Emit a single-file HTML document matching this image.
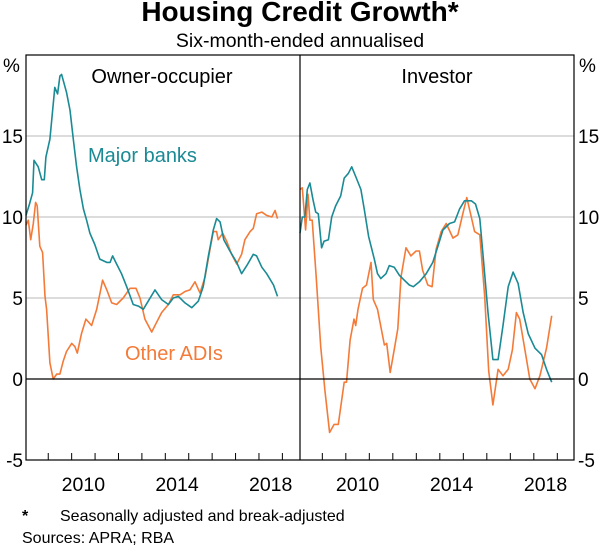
<!DOCTYPE html>
<html><head><meta charset="utf-8"><style>
html,body{margin:0;padding:0;background:#fff;}
svg{display:block;font-family:"Liberation Sans",Arial,sans-serif;}
</style></head><body>
<svg id="chart" width="600" height="546" viewBox="0 0 600 546">
<text x="300" y="21" text-anchor="middle" font-size="28" font-weight="bold">Housing Credit Growth*</text>
<text x="300" y="47" text-anchor="middle" font-size="19.5">Six-month-ended annualised</text>
<g id="grid"></g>
<g id="series"></g>
<g id="axes"></g>
<text x="3" y="72" font-size="19">%</text>
<text x="579" y="72" font-size="19">%</text>
<text x="162" y="83" text-anchor="middle" font-size="20">Owner-occupier</text>
<text x="437" y="83" text-anchor="middle" font-size="20">Investor</text>
<text x="88" y="162" font-size="20" fill="#1a8a95">Major banks</text>
<text x="125" y="360" font-size="20" fill="#f47a38">Other ADIs</text>
<text x="22" y="521" font-size="16" font-weight="bold">*</text>
<text x="60" y="521" font-size="16">Seasonally adjusted and break-adjusted</text>
<text x="22" y="543" font-size="16">Sources: APRA; RBA</text>
</svg>
<script>
const yTicks=[-5,0,5,10,15];
const yearTicks=[2009,2010,2011,2012,2013,2014,2015,2016,2017,2018,2019];
const yearLabels=[2010,2014,2018];
const ooMajorX=[2008.05,2008.2,2008.33,2008.39,2008.57,2008.72,2008.83,2008.9,2009.07,2009.17,2009.28,2009.4,2009.5,2009.57,2009.78,2009.93,2010.07,2010.21,2010.35,2010.5,2010.64,2010.78,2010.99,2011.2,2011.5,2011.64,2011.75,2011.92,2012.13,2012.35,2012.63,2012.85,2013.06,2013.27,2013.56,2013.84,2014.13,2014.34,2014.56,2014.84,2015.13,2015.41,2015.62,2015.84,2016.05,2016.19,2016.34,2016.5,2016.76,2017.05,2017.26,2017.48,2017.76,2017.9,2018.12,2018.33,2018.62,2018.79];
const ooMajorY=[10.1,10.8,11.5,13.5,13.1,12.3,12.3,13.7,14.8,16.3,18.0,17.6,18.7,18.8,17.7,16.6,14.8,13.1,11.7,10.5,9.8,9.0,8.3,7.4,7.2,7.2,7.6,7.1,6.5,5.7,4.6,4.5,4.3,4.8,5.5,4.9,4.6,5.0,5.1,4.7,4.4,4.8,5.7,7.6,9.2,9.9,9.7,8.6,7.9,7.2,6.5,7.0,7.7,7.6,6.9,6.5,5.8,5.1];
const ooOtherX=[2008.05,2008.15,2008.25,2008.36,2008.46,2008.53,2008.64,2008.76,2008.86,2008.93,2009.07,2009.21,2009.36,2009.5,2009.64,2009.78,2010.0,2010.14,2010.24,2010.42,2010.61,2010.85,2011.07,2011.21,2011.32,2011.5,2011.71,2011.92,2012.2,2012.49,2012.75,2012.92,2013.13,2013.42,2013.63,2013.84,2014.13,2014.34,2014.63,2014.84,2015.05,2015.27,2015.48,2015.7,2015.91,2016.05,2016.19,2016.26,2016.45,2016.62,2016.83,2017.05,2017.26,2017.4,2017.62,2017.76,2017.9,2018.12,2018.33,2018.55,2018.69,2018.79];
const ooOtherY=[9.5,9.8,8.6,9.6,10.9,10.7,8.2,7.8,5.1,4.3,1.0,0.0,0.3,0.3,1.1,1.7,2.2,2.0,1.6,2.8,3.7,3.3,4.3,5.3,6.1,5.5,4.7,4.6,5.0,5.6,5.6,5.0,3.7,2.9,3.5,4.1,4.6,5.2,5.2,5.4,5.5,6.0,5.3,6.3,8.0,9.1,9.1,8.6,9.0,8.5,7.7,7.1,7.7,8.6,9.1,9.3,10.2,10.3,10.1,10.0,10.4,9.9];
const invMajorX=[2008.05,2008.15,2008.26,2008.36,2008.47,2008.6,2008.72,2008.83,2008.97,2009.07,2009.26,2009.4,2009.57,2009.78,2009.93,2010.11,2010.25,2010.42,2010.64,2010.78,2010.97,2011.21,2011.35,2011.49,2011.71,2011.85,2012.06,2012.28,2012.49,2012.7,2012.87,2013.13,2013.42,2013.7,2013.92,2014.13,2014.41,2014.63,2014.84,2015.05,2015.34,2015.52,2015.7,2015.84,2016.05,2016.26,2016.48,2016.69,2016.91,2017.12,2017.33,2017.55,2017.76,2018.05,2018.33,2018.54,2018.76];
const invMajorY=[9.0,10.0,10.0,11.7,12.1,11.1,10.3,10.2,8.1,8.5,8.6,10.0,10.7,11.3,12.4,12.7,13.1,12.5,11.7,10.5,8.8,7.4,6.5,6.2,6.5,7.0,6.9,6.4,6.1,5.8,5.7,6.0,6.5,7.2,8.2,9.2,9.6,9.7,10.5,11.0,11.0,10.8,9.9,7.6,4.1,1.2,1.2,3.3,5.7,6.6,5.9,4.1,2.8,1.9,1.5,0.6,-0.2];
const invOtherX=[2008.05,2008.15,2008.29,2008.39,2008.47,2008.57,2008.74,2008.93,2009.11,2009.31,2009.5,2009.68,2009.93,2010.03,2010.18,2010.35,2010.42,2010.52,2010.71,2010.88,2011.07,2011.17,2011.35,2011.64,2011.74,2011.89,2012.06,2012.21,2012.35,2012.56,2012.77,2012.99,2013.13,2013.27,2013.49,2013.67,2013.84,2014.06,2014.27,2014.56,2014.77,2014.98,2015.15,2015.34,2015.48,2015.7,2015.91,2016.08,2016.26,2016.48,2016.69,2016.91,2017.09,2017.26,2017.4,2017.62,2017.83,2018.05,2018.26,2018.54,2018.76];
const invOtherY=[11.7,11.8,9.2,11.4,9.8,9.8,6.3,2.0,-0.7,-3.3,-2.8,-2.8,-0.2,-0.2,2.4,3.7,3.3,4.3,5.6,5.8,7.2,4.9,4.3,2.1,2.2,0.4,1.8,3.1,6.3,8.1,7.6,7.9,7.9,6.7,5.8,5.7,8.0,9.1,9.6,8.7,8.9,10.2,11.2,10.0,9.1,8.9,5.1,0.5,-1.6,0.6,0.2,0.6,1.8,4.1,3.7,1.8,0.0,-0.6,0.2,1.9,3.9];

const NS='http://www.w3.org/2000/svg';
const T0=2008.05,T1=2019.71,TOP=55,BOT=460,YMIN=-5,YMAX=20;
const panels=[{l:26,r:299},{l:300,r:574}];
function xs(p,t){return p.l+(t-T0)/(T1-T0)*(p.r-p.l);}
function ys(v){return BOT-(v-YMIN)/(YMAX-YMIN)*(BOT-TOP);}
function mk(tag,attrs,parent){const e=document.createElementNS(NS,tag);for(const k in attrs)e.setAttribute(k,attrs[k]);parent.appendChild(e);return e;}
const grid=document.getElementById('grid'),ser=document.getElementById('series'),axes=document.getElementById('axes');
yTicks.forEach(v=>{
  if(v>YMIN&&v!==0){const g=mk('line',{x1:26,x2:574,y1:ys(v),y2:ys(v),stroke:'#b8b8b8','stroke-width':1},grid);
  
  }
  const a=mk('text',{x:23,y:ys(v)+7,'text-anchor':'end','font-size':19},axes);a.textContent=v;
  
  
  const b=mk('text',{x:578,y:ys(v)+7,'font-size':19},axes);b.textContent=v;
  
  
});
const z=mk('line',{x1:26,x2:574,y1:ys(0),y2:ys(0),stroke:'#000','stroke-width':1.2},axes);


panels.forEach((p,i)=>{
  yearTicks.forEach(y=>{const t=mk('line',{x1:xs(p,y),x2:xs(p,y),y1:BOT,y2:BOT-7,stroke:'#000','stroke-width':1},axes);
  
  });
  yearLabels.forEach(y=>{const t=mk('text',{x:xs(p,y+0.5),y:491,'text-anchor':'middle','font-size':19.5},axes);t.textContent=y;
  
  });
});
function line(p,X,Y,c,name){
  const d=X.map((t,i)=>(i?'L':'M')+xs(p,t).toFixed(1)+','+ys(Y[i]).toFixed(1)).join('');
  const e=mk('path',{d:d,fill:'none',stroke:c,'stroke-width':1.6,'stroke-linejoin':'round'},ser);
  
  
}
line(panels[0],ooOtherX,ooOtherY,'#f47a38','line-owner-other-adis');
line(panels[0],ooMajorX,ooMajorY,'#1a8a95','line-owner-major-banks');
line(panels[1],invOtherX,invOtherY,'#f47a38','line-investor-other-adis');
line(panels[1],invMajorX,invMajorY,'#1a8a95','line-investor-major-banks');
const fr=mk('rect',{x:26,y:TOP,width:548,height:BOT-TOP,fill:'none',stroke:'#000','stroke-width':1.2},axes);


const dv=mk('line',{x1:300,x2:300,y1:TOP,y2:BOT,stroke:'#000','stroke-width':1.2},axes);


</script>
</body></html>
